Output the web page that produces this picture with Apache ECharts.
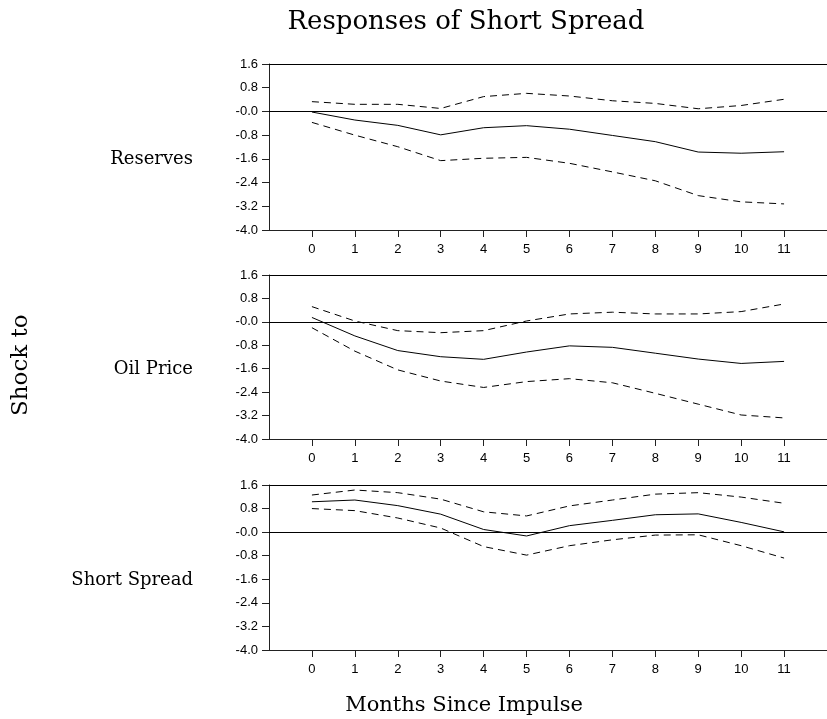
<!DOCTYPE html>
<html><head><meta charset="utf-8">
<script src="https://cdn.jsdelivr.net/npm/echarts@6/dist/echarts.min.js"></script>
<style>html,body{margin:0;padding:0;background:#fff}#c{width:827px;height:719px}</style>
</head><body><div id="c"></div>
<script>
const months = [0,1,2,3,4,5,6,7,8,9,10,11];
const shocks = ['Reserves','Oil Price','Short Spread'];
const yTicks = [-4.0,-3.2,-2.4,-1.6,-0.8,0.0,0.8,1.6];

const resMid   = [-0.02,-0.29,-0.47,-0.79,-0.55,-0.48,-0.60,-0.81,-1.02,-1.37,-1.41,-1.36];
const resUp    = [0.33,0.24,0.24,0.10,0.50,0.61,0.52,0.36,0.27,0.09,0.20,0.41];
const resLo    = [-0.37,-0.80,-1.19,-1.66,-1.58,-1.55,-1.75,-2.04,-2.34,-2.84,-3.05,-3.12];

const oilMid   = [0.15,-0.48,-0.98,-1.19,-1.28,-1.03,-0.82,-0.87,-1.07,-1.27,-1.42,-1.35];
const oilUp    = [0.52,0.03,-0.30,-0.37,-0.30,0.03,0.27,0.33,0.27,0.27,0.35,0.61];
const oilLo    = [-0.20,-1.00,-1.64,-2.02,-2.24,-2.04,-1.94,-2.08,-2.44,-2.81,-3.18,-3.28];

const sprMid   = [1.03,1.09,0.90,0.61,0.09,-0.13,0.22,0.40,0.59,0.62,0.33,0.01];
const sprUp    = [1.26,1.43,1.34,1.12,0.69,0.55,0.89,1.09,1.29,1.34,1.19,0.98];
const sprLo    = [0.80,0.73,0.48,0.14,-0.49,-0.78,-0.46,-0.26,-0.10,-0.09,-0.46,-0.88];

const panels = [[resMid,resUp,resLo],[oilMid,oilUp,oilLo],[sprMid,sprUp,sprLo]];
const gridTops = [64,275,485];
const gridH = [166,164,165];

const chart = echarts.init(document.getElementById('c'));
const serif = 'DejaVu Serif';
const sans = 'Liberation Sans';
const grids=[], xAxes=[], yAxes=[], series=[];
const pair = (arr)=>arr.map((v,i)=>[months[i],v]);

panels.forEach((p,k)=>{
  grids.push({left:269,right:0,top:gridTops[k],height:gridH[k]});
  xAxes.push({type:'value',gridIndex:k,min:-1,max:12,interval:1,position:'bottom',
    axisLine:{show:true,onZero:false,lineStyle:{color:'#222',width:1}},
    axisTick:{show:true,length:7,customValues:months,lineStyle:{color:'#222'}},
    axisLabel:{show:true,customValues:months,color:'#000',fontFamily:sans,fontSize:13,margin:13},
    splitLine:{show:false}});
  xAxes.push({type:'value',gridIndex:k,min:-1,max:12,position:'top',
    axisLine:{show:true,onZero:false,lineStyle:{color:'#000',width:1}},
    axisTick:{show:false},axisLabel:{show:false},splitLine:{show:false}});
  yAxes.push({type:'value',gridIndex:k,min:-4.0,max:1.6,interval:0.8,
    axisLine:{show:true,onZero:false,lineStyle:{color:'#222',width:1}},
    axisTick:{show:true,length:7,lineStyle:{color:'#222'}},
    axisLabel:{color:'#000',fontFamily:sans,fontSize:13,margin:11,
      formatter:(v)=>{const t=yTicks.find(x=>Math.abs(x-v)<1e-6);const val=(t===undefined?v:t);return Math.abs(val)<1e-9?'-0.0':val.toFixed(1);}},
    splitLine:{show:false}});
  const xi = 2*k;
  series.push({type:'line',xAxisIndex:xi,yAxisIndex:k,data:pair(p[0]),symbol:'none',silent:true,
    lineStyle:{color:'#000',width:1},
    markLine:{silent:true,symbol:['none','none'],label:{show:false},lineStyle:{color:'#000',width:1,type:'solid'},data:[{yAxis:0}]}});
  series.push({type:'line',xAxisIndex:xi,yAxisIndex:k,data:pair(p[1]),symbol:'none',silent:true,
    lineStyle:{color:'#000',width:1,type:[7,5]}});
  series.push({type:'line',xAxisIndex:xi,yAxisIndex:k,data:pair(p[2]),symbol:'none',silent:true,
    lineStyle:{color:'#000',width:1,type:[7,5]}});
});

const titles = [
  {text:'Responses of Short Spread',left:466,top:9,padding:0,textAlign:'center',textStyle:{fontFamily:serif,fontSize:26,fontWeight:'normal',color:'#000'}},
  {text:'Months Since Impulse',left:464,top:695,padding:0,textAlign:'center',textStyle:{fontFamily:serif,fontSize:21,fontWeight:'normal',color:'#000'}}
];
const labelY = [158,368,579];
shocks.forEach((s,k)=>{
  titles.push({text:s,right:827-193,top:labelY[k]-8,padding:0,textStyle:{fontFamily:serif,fontSize:18,fontWeight:'normal',color:'#000'}});
});

chart.setOption({
  animation:false,
  backgroundColor:'#fff',
  title:titles,
  graphic:[{type:'text',x:10,y:416,rotation:Math.PI/2,style:{text:'Shock to',font:'23px "DejaVu Serif"',fill:'#000'}}],
  grid:grids, xAxis:xAxes, yAxis:yAxes, series:series
});
</script></body></html>
